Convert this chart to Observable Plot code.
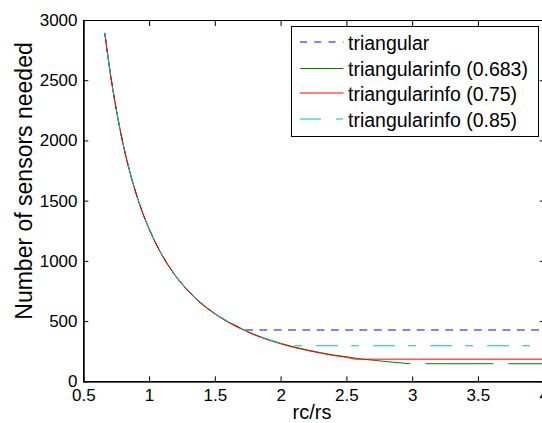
<!DOCTYPE html>
<html><head><meta charset="utf-8">
<script src="https://cdn.jsdelivr.net/npm/d3@7"></script>
<script src="https://cdn.jsdelivr.net/npm/@observablehq/plot@0.6"></script>
<style>
html,body{margin:0;padding:0;background:#fff;overflow:hidden;width:542px;height:423px;}
#chart{position:relative;width:542px;height:423px;overflow:hidden;}
#chart svg{display:block;max-width:none !important;width:548px !important;height:423px !important;}
#chart svg text{font-family:Arial,"Liberation Sans",Helvetica,sans-serif;}
</style></head>
<body><div id="chart"></div>
<script>
// ---- data ----
const xTicks = [0.5, 1, 1.5, 2, 2.5, 3, 3.5, 4];
const yTicks = [0, 500, 1000, 1500, 2000, 2500, 3000];
const xLabel = "rc/rs";
const yLabel = "Number of sensors needed";
const seriesNames = ["triangular", "triangularinfo (0.683)", "triangularinfo (0.75)", "triangularinfo (0.85)"];
const seriesColors = ["#0000ff", "#008000", "#ff0000", "#00bfbf"];

// common decaying part (all four series coincide here)
const curveX = [0.66, 0.7, 0.75, 0.8, 0.85, 0.9, 0.95, 1.0, 1.1, 1.2, 1.3, 1.4, 1.5, 1.6, 1.7];
const curveY = [2890, 2570, 2240, 1965, 1740, 1552, 1393, 1258, 1040, 874, 745, 642, 560, 493, 437];

// individual tails
const triangularTailX = [1.72, 4.0];
const triangularTailY = [426, 426];
const info683TailX = [1.8, 1.9, 2.0, 2.1, 2.2, 2.3, 2.4, 2.5, 2.6, 2.7, 2.8, 2.9, 2.98, 3.04, 3.1, 3.61, 3.67, 3.73, 4.0];
const info683TailY = [388, 348, 314, 285, 260, 238, 218, 203, 186, 175, 164, 154, 146, null, 146, 146, null, 146, 146];
const info75TailX = [1.8, 1.9, 2.0, 2.1, 2.2, 2.3, 2.4, 2.5, 2.57, 4.0];
const info75TailY = [388, 348, 314, 285, 260, 238, 218, 203, 188, 188];
const info85TailX = [1.8, 1.9, 2.0, 2.06, 4.0];
const info85TailY = [388, 348, 314, 295, 295];

// ---- build tables ----
function rows(xs, ys) { return xs.map((x, i) => ({x, y: ys[i]})); }
const series = [
  rows([...curveX, ...triangularTailX], [...curveY, ...triangularTailY]),
  rows([...curveX, ...info683TailX], [...curveY, ...info683TailY]),
  rows([...curveX, ...info75TailX], [...curveY, ...info75TailY]),
  rows([...curveX, ...info85TailX], [...curveY, ...info85TailY])
];
const dashes = ["7,7.3", null, null, "21,14,7,15"];
const lineDy = [-0.5, -0.5, 0, -0.5];

const W = 548, H = 423;
const font = 'Arial, "Liberation Sans", Helvetica, sans-serif';

const plot = Plot.plot({
  width: W, height: H,
  marginLeft: 83.3, marginRight: 4.3, marginTop: 20, marginBottom: 41.7,
  style: {fontFamily: font, fontSize: "17px", background: "white", color: "black", overflow: "visible", maxWidth: "none"},
  x: {domain: [0.5, 4]},
  y: {domain: [0, 3000]},
  marks: [
    ...series.map((d, i) => Plot.line(d, {
      x: "x", y: "y", stroke: seriesColors[i], strokeWidth: 1, dy: lineDy[i],
      strokeDasharray: dashes[i] || undefined, curve: "monotone-x"
    })),
    Plot.frame({stroke: "black", strokeWidth: 1}),
    Plot.ruleX([0.5], {stroke: "black", strokeWidth: 1.6}),
    Plot.ruleY([0], {stroke: "black", strokeWidth: 1.6}),
    Plot.axisX({anchor: "bottom", ticks: xTicks, tickSize: -5, tickPadding: 12, tickFormat: d => String(d), label: null}),
    Plot.axisX({anchor: "top", ticks: xTicks, tickSize: -5, tickFormat: () => "", label: null}),
    Plot.axisY({anchor: "left", ticks: yTicks, tickSize: -5, tickPadding: 11.3, tickFormat: d => String(d), label: null}),
    Plot.axisY({anchor: "right", ticks: yTicks, tickSize: -5, tickFormat: () => "", label: null})
  ]
});
document.getElementById("chart").appendChild(plot);

// align dash phases with the reference
const xs = plot.scale("x");
const lineGroups = plot.querySelectorAll('g[aria-label="line"]');
function alignDash(groupIndex, period, targetPx) {
  const g = lineGroups[groupIndex];
  if (!g) return;
  const p = g.querySelector("path");
  if (!p || !p.getTotalLength) return;
  const L = p.getTotalLength();
  const xEnd = xs.apply(4);
  const s = L - (xEnd - targetPx);
  const off = ((period - (s % period)) % period + period) % period;
  p.setAttribute("stroke-dashoffset", off);
}
alignDash(0, 14.3, 245);
alignDash(3, 57, 316);

// axis titles
const svg = d3.select(plot);
svg.append("text").attr("x", 312).attr("y", 419).attr("text-anchor", "middle")
  .attr("font-size", 20).attr("fill", "black").text(xLabel);
svg.append("text").attr("transform", "translate(32,181) rotate(-90)").attr("text-anchor", "middle")
  .attr("font-size", 23).attr("fill", "black").text(yLabel);

// legend box
const legendDash = ["7,7.3", null, null, "21,15,7,15"];
const legendY = [42, 68.5, 93, 119];
const lg = svg.append("g").attr("text-anchor", "start");
lg.append("rect").attr("x", 291.5).attr("y", 26.5).attr("width", 247).attr("height", 110)
  .attr("fill", "white").attr("stroke", "black").attr("stroke-width", 1);
seriesNames.forEach((name, i) => {
  const y = legendY[i];
  const ln = lg.append("line").attr("x1", 300).attr("x2", 343.5).attr("y1", y).attr("y2", y)
    .attr("stroke", seriesColors[i]).attr("stroke-width", 1);
  if (legendDash[i]) ln.attr("stroke-dasharray", legendDash[i]);
  lg.append("text").attr("x", 348).attr("y", y).attr("dy", "0.4em").attr("text-anchor", "start")
    .attr("font-size", 19.5).attr("fill", "black").text(name);
});
</script>
</body></html>
